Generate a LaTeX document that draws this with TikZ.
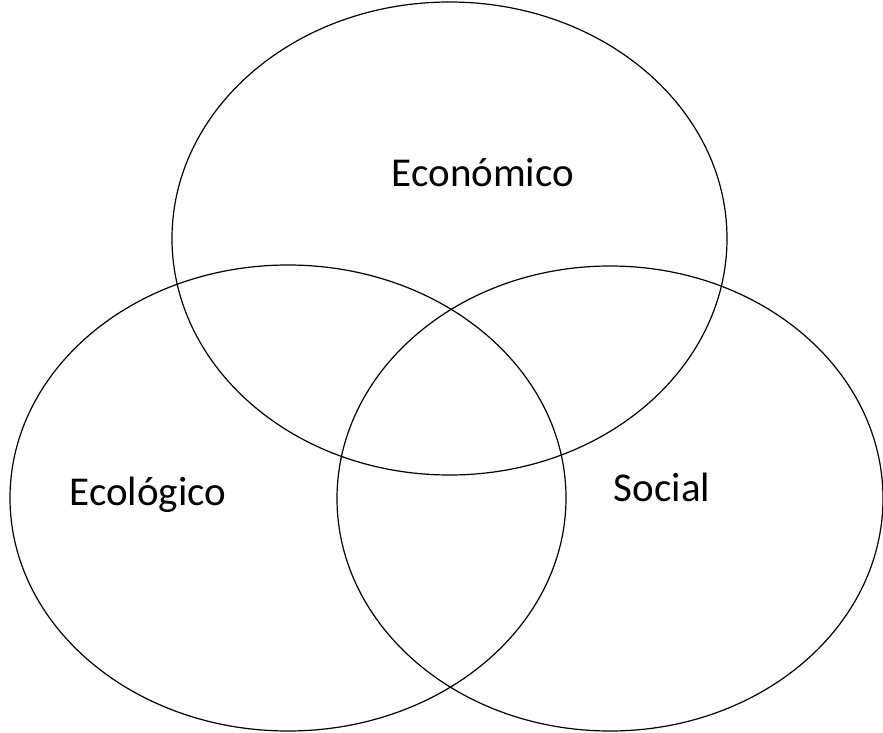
\documentclass[tikz,border=0pt]{standalone}
\usepackage{fontspec}
\setmainfont{Carlito}
\begin{document}
\begin{tikzpicture}[x=1pt,y=-1pt,
  ring/.style={draw=black,line width=1.2pt},
  lbl/.style={font=\fontsize{41}{48}\selectfont,inner sep=0pt}]
\useasboundingbox (0,0) rectangle (883,733);
\draw[ring] (449.5,238.5) ellipse [x radius=277.5, y radius=236.5];
\draw[ring] (288,498) ellipse [x radius=278, y radius=233];
\draw[ring] (610,498.5) ellipse [x radius=273, y radius=232.5];
\node[lbl] (eco) at (483,173) {Económico};
\node[lbl] (ecol) at (148,495) {Ecológico};
\node[lbl] (soc) at (662,487) {Social};
\end{tikzpicture}
\end{document}
